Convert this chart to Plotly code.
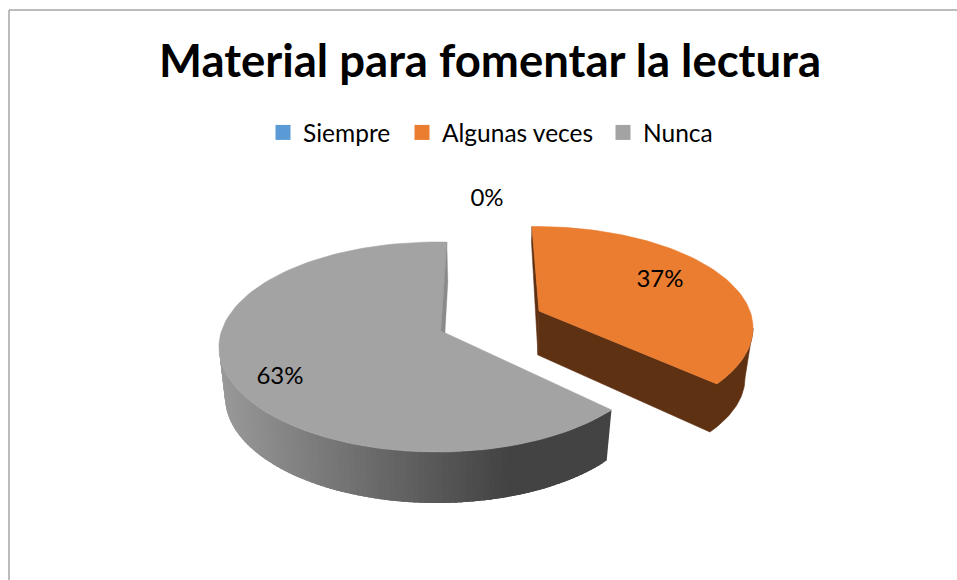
import math
import plotly.graph_objects as go

# --- data ---
categories = ["Siempre", "Algunas veces", "Nunca"]
values = [0, 37, 63]
colors = ["#5B9BD5", "#EB7D30", "#A3A3A3"]
title_text = "Material para fomentar la lectura"

# --- drawing parameters (pixels of the 957x580 page) ---
W, H = 957, 580
FONT = "Lato"
label_pos = [(487, 200), (660, 281), (280, 378)]
legend_x = [263, 402, 603]
# top ellipse, bottom ellipse, apex, bottom apex, angle offset
geom = {
    1: dict(top=(535, 328, 218, 101.5), bot=(533, 378, 212, 98), apex=(539, 311), apex_b=(538, 355), off=-0.8),
    2: dict(top=(437, 347, 218, 105), bot=(437, 397, 212, 106), apex=(441, 331), apex_b=(445, 333), off=2.6),
}
SKEW = -12.3  # perspective correction in degrees


def phi(t, off):
    return t + off + SKEW * math.sin(math.radians(t))


def pt(e, p):
    r = math.radians(p)
    return e[0] + e[2] * math.sin(r), e[1] - e[3] * math.cos(r)


def mix(c1, c2, f):
    a = [int(c1[i:i + 2], 16) for i in (1, 3, 5)]
    b = [int(c2[i:i + 2], 16) for i in (1, 3, 5)]
    return "rgb(%d,%d,%d)" % tuple(round(x + (y - x) * f) for x, y in zip(a, b))


def poly(pts, color, lw=0.6):
    xs = [p[0] for p in pts] + [pts[0][0]]
    ys = [p[1] for p in pts] + [pts[0][1]]
    return go.Scatter(x=xs, y=ys, mode="lines", fill="toself", fillcolor=color,
                      line=dict(color=color, width=lw), hoverinfo="skip", showlegend=False)


def linspace(a, b, n):
    return [a + (b - a) * i / n for i in range(n + 1)]


fig = go.Figure()
total = sum(values)
start = 0.0
angles = []
for v in values:
    end = start + 360.0 * v / total
    angles.append((start, end))
    start = end

# orange slice
t0, t1 = angles[1]
g = geom[1]
p0, p1 = phi(t0, g["off"]), phi(t1, g["off"])
tp0 = pt(g["top"], p0)
brown = "#5F3113"
fig.add_trace(poly([tp0, g["apex"], g["apex_b"], (tp0[0] - 0.4, tp0[1] + 16)], brown))
walls = ([g["apex"]] + [pt(g["top"], a) for a in linspace(p1, 90, 30)]
         + [pt(g["bot"], a) for a in linspace(90, p1, 30)] + [g["apex_b"]])
fig.add_trace(poly(walls, brown))
top_face = [g["apex"]] + [pt(g["top"], a) for a in linspace(p0, p1, 80)]
fig.add_trace(poly(top_face, colors[1]))

# grey slice: the outer wall is built from overlapping strips, each painted over the last
t0, t1 = angles[2]
g = geom[2]
p0, p1 = phi(t0, g["off"]), phi(t1, g["off"])
n = 90
steps = linspace(p0, 270, n)
d = steps[1] - steps[0]
for a in reversed(steps[:-1]):
    b = min(a + 2.5 * d, 270)
    x_mid = pt(g["top"], a + d / 2)[0]
    f = min(1.0, max(0.0, (x_mid - 222) / (517 - 222)))
    col = mix("#999999", "#434343", f)
    pts = [pt(g["top"], a), pt(g["top"], b), pt(g["bot"], b), pt(g["bot"], a)]
    fig.add_trace(poly(pts, col, 0))
top_face = [g["apex"]] + [pt(g["top"], a) for a in linspace(p0, p1, 120)]
fig.add_trace(poly(top_face, colors[2]))
e = pt(g["top"], p1)
fig.add_trace(poly([e, g["apex"], g["apex_b"], (e[0] + 1, e[1] + 40)], "#8A8A8A", 0.3))

# percentage labels
fig.add_trace(go.Scatter(
    x=[p[0] for p in label_pos], y=[p[1] for p in label_pos], mode="text",
    text=["%d%%" % round(100 * v / total) for v in values],
    textposition="middle center", textfont=dict(family=FONT, size=24, color="#000000"),
    hoverinfo="skip", showlegend=False))

# legend entries, one legend box each so the three entries sit at their own places
legend_keys = ["legend", "legend2", "legend3"]
for name, col, key in zip(categories, colors, legend_keys):
    fig.add_trace(go.Scatter(x=[None], y=[None], mode="markers", name=name, legend=key,
                             marker=dict(symbol="square", size=15, color=col)))
legend_layout = {
    key: dict(orientation="h", x=lx / W, xanchor="left", y=1 - 132.5 / H, yanchor="middle",
              font=dict(family=FONT, size=24.5, color="#000000"), itemsizing="trace",
              bgcolor="rgba(0,0,0,0)")
    for key, lx in zip(legend_keys, legend_x)
}

fig.update_layout(
    width=W, height=H, margin=dict(l=0, r=0, t=0, b=0),
    autosize=False,
    paper_bgcolor="white", plot_bgcolor="white",
    xaxis=dict(range=[0, W], visible=False, fixedrange=True),
    yaxis=dict(range=[H, 0], visible=False, fixedrange=True),
    title=dict(text="<b>%s</b>" % title_text, x=490 / W, xanchor="center",
               y=1 - 61 / H, yanchor="middle",
               font=dict(family=FONT, size=45.5, color="#000000")),
    shapes=[
        dict(type="line", x0=9, x1=W, y0=10, y1=10, line=dict(color="#A6A6A6", width=1.5)),
        dict(type="line", x0=9, x1=9, y0=10, y1=H, line=dict(color="#A6A6A6", width=1.5)),
    ],
    **legend_layout,
)
fig.write_html("out.html", config=dict(displayModeBar=False),
               post_script="document.body.style.margin='0';document.body.style.overflow='hidden';")
